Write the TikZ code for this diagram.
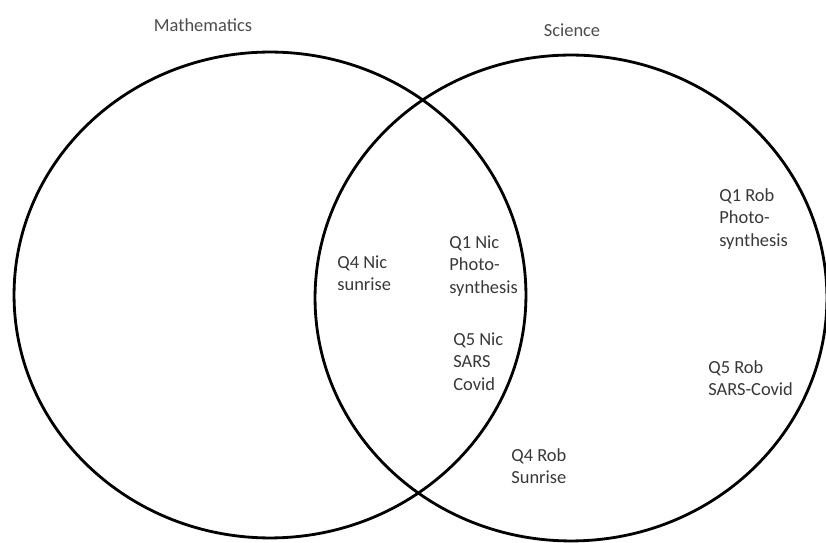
\documentclass[tikz,border=0pt]{standalone}
\usepackage{fontspec}
\setmainfont{Carlito}
\usetikzlibrary{shapes.geometric}
\begin{document}
\begin{tikzpicture}[
      x=0.02cm, y=-0.02cm,
      font=\fontsize{10.5}{12.8}\selectfont,
      menge/.style={ellipse, draw=black, line width=1.6pt, inner sep=0pt,
                    minimum width=10.24cm, minimum height=9.72cm},
      eintrag/.style={anchor=north west, align=left, inner sep=0pt, text=black!78},
      titel/.style={anchor=north, inner sep=0pt, text=black!70}
    ]
      \useasboundingbox (0,0) rectangle (826,543);

      % die beiden Mengen
      \node[menge] (mathe) at (270,295) {};
      \node[menge] (sci) at (571,298) {};
      \node[titel] (tmathe) at (203,18) {Mathematics};
      \node[titel] (tsci) at (572,23) {Science};

      % Schnittmenge
      \node[eintrag] (q4nic) at (337,255) {Q4 Nic\\ sunrise};
      \node[eintrag] (q1nic) at (449,235) {Q1 Nic\\ Photo-\\ synthesis};
      \node[eintrag] (q5nic) at (453,332) {Q5 Nic\\ SARS\\ Covid};

      % nur Science
      \node[eintrag] (q1rob) at (719,188) {Q1 Rob\\ Photo-\\ synthesis};
      \node[eintrag] (q5rob) at (708,360) {Q5 Rob\\ SARS-Covid};
      \node[eintrag] (q4rob) at (511,448) {Q4 Rob\\ Sunrise};
    \end{tikzpicture}
\end{document}
